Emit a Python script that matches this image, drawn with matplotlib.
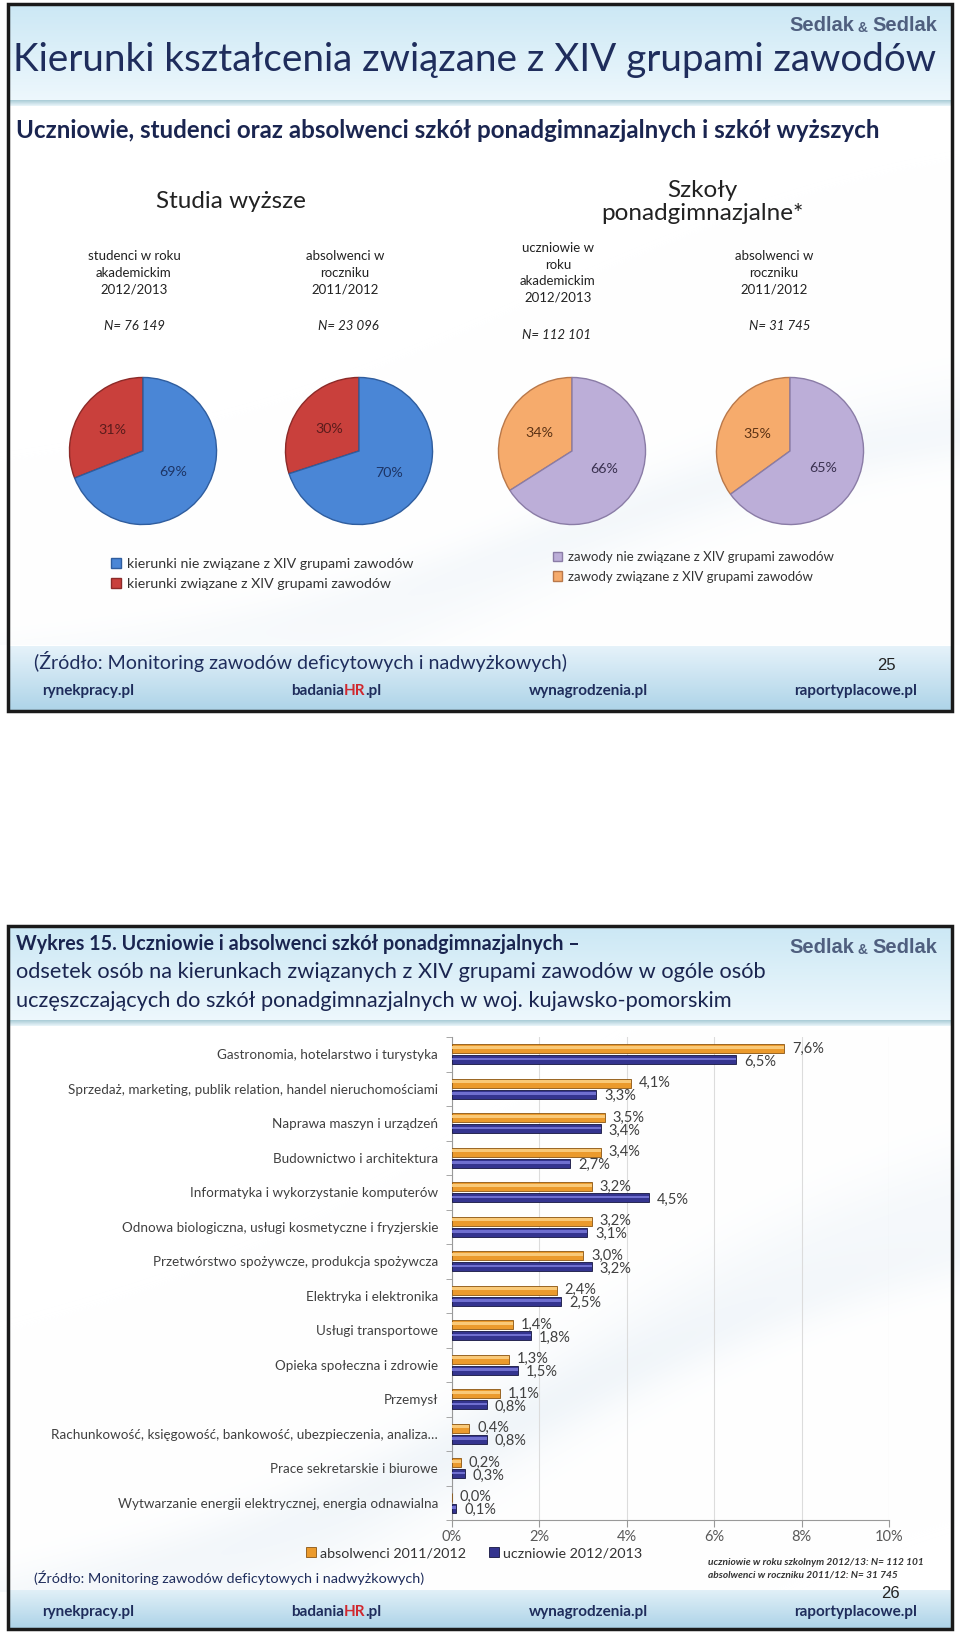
import numpy as np
import matplotlib
matplotlib.use("Agg")
import matplotlib.pyplot as plt
from matplotlib.patches import Rectangle

W, H = 960, 1641

# ---- dane: slajd 25 (wykresy kołowe) ----
pie_headers = ["studenci w roku\nakademickim\n2012/2013",
               "absolwenci w\nroczniku\n2011/2012",
               "uczniowie w\nroku\nakademickim\n2012/2013",
               "absolwenci w\nroczniku\n2011/2012"]
pie_n = ["N= 76 149", "N= 23 096", "N= 112 101", "N= 31 745"]
pie_related = [31, 30, 34, 35]
pie_other = [69, 70, 66, 65]
legend_studia = ["kierunki nie związane z XIV grupami zawodów",
                 "kierunki związane z XIV grupami zawodów"]
legend_szkoly = ["zawody nie związane z XIV grupami zawodów",
                 "zawody związane z XIV grupami zawodów"]

# ---- dane: slajd 26 (wykres słupkowy) ----
categories = ["Gastronomia, hotelarstwo i turystyka",
              "Sprzedaż, marketing, publik relation, handel nieruchomościami",
              "Naprawa maszyn i urządzeń",
              "Budownictwo i architektura",
              "Informatyka i wykorzystanie komputerów",
              "Odnowa biologiczna, usługi kosmetyczne i fryzjerskie",
              "Przetwórstwo spożywcze, produkcja spożywcza",
              "Elektryka i elektronika",
              "Usługi transportowe",
              "Opieka społeczna i zdrowie",
              "Przemysł",
              "Rachunkowość, księgowość, bankowość, ubezpieczenia, analiza…",
              "Prace sekretarskie i biurowe",
              "Wytwarzanie energii elektrycznej, energia odnawialna"]
absolwenci = [7.6, 4.1, 3.5, 3.4, 3.2, 3.2, 3.0, 2.4, 1.4, 1.3, 1.1, 0.4, 0.2, 0.0]
uczniowie = [6.5, 3.3, 3.4, 2.7, 4.5, 3.1, 3.2, 2.5, 1.8, 1.5, 0.8, 0.8, 0.3, 0.1]
x_ticks = [0, 2, 4, 6, 8, 10]
series_names = ["absolwenci 2011/2012", "uczniowie 2012/2013"]

plt.rcParams['font.family'] = ['Lato', 'DejaVu Sans']
NAVY = '#1f2d5c'
GREY = '#404040'

fig = plt.figure(figsize=(W / 100, H / 100), dpi=100)
fig.patch.set_facecolor('white')

# ---- tło slajdów ----
bg = np.ones((H, W, 3))
yy, xx = np.mgrid[0:H, 0:W]


def fill_band(y0, y1, c0, c1):
    t = np.linspace(0, 1, y1 - y0)[:, None]
    bg[y0:y1, 8:952] = (np.array(c0) * (1 - t) + np.array(c1) * t)[:, None, :]


def swoosh(y_base, slope, amp, width, strength, y_lo, y_hi):
    centre = y_base - slope * xx + amp * np.sin(xx / 170.0)
    w = strength * np.exp(-((yy - centre) / width) ** 2)
    w[:y_lo] = 0
    w[y_hi:] = 0
    tint = np.array([0.82, 0.88, 0.93])
    bg[:] = bg * (1 - w[..., None]) + tint * w[..., None]


swoosh(720, 0.30, 25, 45, 0.15, 110, 645)
swoosh(660, 0.22, 20, 25, 0.10, 110, 645)
swoosh(1650, 0.45, 30, 55, 0.20, 1030, 1592)
swoosh(1600, 0.35, 20, 30, 0.14, 1030, 1592)

fill_band(5, 100, (0.80, 0.91, 0.96), (0.93, 0.97, 0.99))
fill_band(100, 106, (0.68, 0.81, 0.85), (0.90, 0.95, 0.97))
fill_band(646, 711, (0.90, 0.95, 0.98), (0.68, 0.83, 0.91))
fill_band(927, 1020, (0.80, 0.91, 0.96), (0.93, 0.97, 0.99))
fill_band(1020, 1026, (0.68, 0.81, 0.85), (0.90, 0.95, 0.97))
fill_band(1590, 1628, (0.88, 0.94, 0.97), (0.68, 0.83, 0.91))
bg[713:924] = 1.0
bg[1630:] = 1.0

ax0 = fig.add_axes([0, 0, 1, 1])
ax0.imshow(bg, extent=[0, W, H, 0], aspect='auto', zorder=0)
ax0.set_xlim(0, W)
ax0.set_ylim(H, 0)
ax0.axis('off')

for y0, y1 in [(4, 711), (926, 1629)]:
    ax0.add_patch(Rectangle((8, y0), 944, y1 - y0, fill=False,
                            lw=2.5, ec='#1a1a1a', zorder=5))


def sedlak(y):
    t = ax0.text(937, y, "Sedlak", ha='right', va='bottom', fontsize=14.5,
                 fontweight='bold', color='#4f5f7f', family='Liberation Sans')
    t = ax0.annotate(" & ", xy=(0, 0), xycoords=t, ha='right', va='bottom',
                     fontsize=10, fontweight='bold', color='#4f5f7f',
                     family='Liberation Sans')
    ax0.annotate("Sedlak", xy=(0, 0), xycoords=t, ha='right', va='bottom',
                 fontsize=14.5, fontweight='bold', color='#4f5f7f',
                 family='Liberation Sans')


def footer(y):
    fs = 11
    ax0.text(42, y, "rynekpracy.pl", va='center', fontsize=fs,
             fontweight='bold', color=NAVY)
    t = ax0.text(291, y, "badania", va='center', fontsize=fs,
                 fontweight='bold', color=NAVY)
    t = ax0.annotate("HR", xy=(1, 0), xycoords=t, va='bottom', fontsize=fs,
                     fontweight='bold', color='#d0282e')
    ax0.annotate(".pl", xy=(1, 0), xycoords=t, va='bottom', fontsize=fs,
                 fontweight='bold', color=NAVY)
    ax0.text(529, y, "wynagrodzenia.pl", va='center', fontsize=fs,
             fontweight='bold', color=NAVY)
    ax0.text(917, y, "raportyplacowe.pl", va='center', ha='right',
             fontsize=fs, fontweight='bold', color=NAVY)


# ---- slajd 25 ----
sedlak(35)
ax0.text(13, 60, "Kierunki kształcenia związane z XIV grupami zawodów",
         va='center', fontsize=27.8, color=NAVY)
ax0.text(16, 131, "Uczniowie, studenci oraz absolwenci szkół ponadgimnazjalnych "
         "i szkół wyższych", va='center', fontsize=17.4, fontweight='bold',
         color='#1a2550')
ax0.text(231, 201, "Studia wyższe", ha='center', va='center', fontsize=17.5,
         color='#222222')
ax0.text(702, 202, "Szkoły\nponadgimnazjalne*", ha='center', va='center',
         fontsize=17.5, color='#222222', linespacing=1.15)

pie_cx = [143, 359, 572, 790]
pie_cy, pie_r = 451, 75
n_y = [326, 326, 335, 326]
n_x = [134, 348, 556, 780]
head_x = [134, 345, 558, 774]
pie_colors = [('#c9403c', '#4a86d6'), ('#c9403c', '#4a86d6'),
              ('#f6ab6c', '#bcaed8'), ('#f6ab6c', '#bcaed8')]
edge_colors = [('#8c2a28', '#2f5d9e'), ('#8c2a28', '#2f5d9e'),
               ('#b9784a', '#8a7ca6'), ('#b9784a', '#8a7ca6')]
pct_colors = [('#5a1c1c', '#1d3566'), ('#5a1c1c', '#1d3566'),
              ('#5c3315', '#3a3150'), ('#5c3315', '#3a3150')]

wedges_all = []
for i in range(4):
    ax0.text(head_x[i], 273, pie_headers[i], ha='center', va='center',
             fontsize=9.5, color='#222222', linespacing=1.45)
    ax0.text(n_x[i], n_y[i], pie_n[i], ha='center', va='center',
             fontsize=9.5, color='#222222', style='italic')
    ax = fig.add_axes([(pie_cx[i] - pie_r) / W, 1 - (pie_cy + pie_r) / H,
                       2 * pie_r / W, 2 * pie_r / H])
    wedges, texts, autotexts = ax.pie(
        [pie_related[i], pie_other[i]], colors=pie_colors[i], startangle=90,
        counterclock=True, autopct=lambda p: f"{p:.0f}%", pctdistance=0.5,
        radius=1, wedgeprops=dict(linewidth=1.0))
    for w, ec in zip(wedges, edge_colors[i]):
        w.set_edgecolor(ec)
    for t, c in zip(autotexts, pct_colors[i]):
        t.set_color(c)
        t.set_fontsize(10.3)
    ax.set_xlim(-1.02, 1.02)
    ax.set_ylim(-1.02, 1.02)
    ax.set_aspect('equal')
    ax.axis('off')
    wedges_all.append(wedges)

fig.legend([wedges_all[0][1], wedges_all[0][0]], legend_studia,
           loc='center left', bbox_to_anchor=(111 / W, 1 - 574 / H),
           frameon=False, borderpad=0, borderaxespad=0, handlelength=0.7,
           handleheight=0.7, handletextpad=0.4, labelspacing=0.6,
           prop=dict(size=10.2), labelcolor='#333333')
fig.legend([wedges_all[2][1], wedges_all[2][0]], legend_szkoly,
           loc='center left', bbox_to_anchor=(553 / W, 1 - 567 / H),
           frameon=False, borderpad=0, borderaxespad=0, handlelength=0.7,
           handleheight=0.7, handletextpad=0.4, labelspacing=0.55,
           prop=dict(size=9.5), labelcolor='#333333')

ax0.text(34, 661, "(Źródło: Monitoring zawodów deficytowych i nadwyżkowych)",
         va='center', fontsize=14.1, color=NAVY)
ax0.text(886, 666, "25", ha='center', va='center', fontsize=12,
         color='#222222', family='Liberation Sans')
footer(691)

# ---- slajd 26 ----
sedlak(957)
ax0.text(16, 944, "Wykres 15. Uczniowie i absolwenci szkół ponadgimnazjalnych –",
         va='center', fontsize=14.2, fontweight='bold', color='#1a2550')
ax0.text(16, 972, "odsetek osób na kierunkach związanych z XIV grupami zawodów "
         "w ogóle osób", va='center', fontsize=15.7, color='#1a2550')
ax0.text(16, 1001, "uczęszczających do szkół ponadgimnazjalnych w woj. "
         "kujawsko-pomorskim", va='center', fontsize=15.7, color='#1a2550')

top, bottom = 1037, 1520
axb = fig.add_axes([452 / W, 1 - bottom / H, 437 / W, (bottom - top) / H])
axb.patch.set_alpha(0)
pos = np.arange(len(categories))
off, bh = 0.16, 0.26
axb.barh(pos - off, absolwenci, height=bh, color='#eb9a2c', edgecolor='#8a5512',
         linewidth=0.6, zorder=3, label=series_names[0])
axb.barh(pos - off - 0.04, absolwenci, height=bh * 0.35, color='#f9c978',
         linewidth=0, zorder=4)
axb.barh(pos + off, uczniowie, height=bh, color='#34348f', edgecolor='#15153f',
         linewidth=0.6, zorder=3, label=series_names[1])
axb.barh(pos + off - 0.02, uczniowie, height=bh * 0.3, color='#6f6fcf',
         linewidth=0, zorder=4)

for p, a, u in zip(pos, absolwenci, uczniowie):
    axb.text(a + 0.18, p - off, f"{a:.1f}%".replace('.', ','), va='center',
             fontsize=10.5, color=GREY, zorder=5)
    axb.text(u + 0.18, p + off + 0.05, f"{u:.1f}%".replace('.', ','),
             va='center', fontsize=10.5, color=GREY, zorder=5)

axb.set_xlim(0, 10)
axb.set_ylim(len(categories) - 0.5, -0.5)
axb.set_xticks(x_ticks)
axb.set_xticklabels([f"{v}%" for v in x_ticks], fontsize=10.5, color='#595959')
axb.set_yticks(pos)
axb.set_yticklabels(categories, fontsize=9.7, color=GREY)
axb.set_yticks(np.arange(-0.5, len(categories), 1), minor=True)
axb.tick_params(axis='y', which='major', length=0, pad=10)
axb.tick_params(axis='y', which='minor', length=4, color='#999999')
axb.tick_params(axis='x', length=5, color='#999999', pad=2)
axb.grid(axis='x', color='#dcdcdc', linewidth=0.8, zorder=0)
for s in ['top', 'right']:
    axb.spines[s].set_visible(False)
for s in ['left', 'bottom']:
    axb.spines[s].set_color('#999999')

fig.legend(loc='center', bbox_to_anchor=(474 / W, 1 - 1553 / H), ncol=2,
           frameon=False, handlelength=0.7, handleheight=0.7,
           handletextpad=0.3, columnspacing=1.6,
           prop=dict(size=10.3), labelcolor='#333333',
           handles=axb.containers[:1] + axb.containers[2:3],
           labels=series_names)

ax0.text(708, 1569, "uczniowie w roku szkolnym 2012/13: N= 112 101\n"
         "absolwenci w roczniku 2011/12: N= 31 745", va='center',
         fontsize=7.25, fontweight='bold', style='italic', color='#333333',
         linespacing=1.45, zorder=6)
ax0.text(34, 1578, "(Źródło: Monitoring zawodów deficytowych i nadwyżkowych)",
         va='center', fontsize=10.4, color=NAVY)
ax0.text(890, 1594, "26", ha='center', va='center', fontsize=12,
         color='#222222', family='Liberation Sans', zorder=6)
footer(1612)

fig.savefig("out.png", dpi=100)
